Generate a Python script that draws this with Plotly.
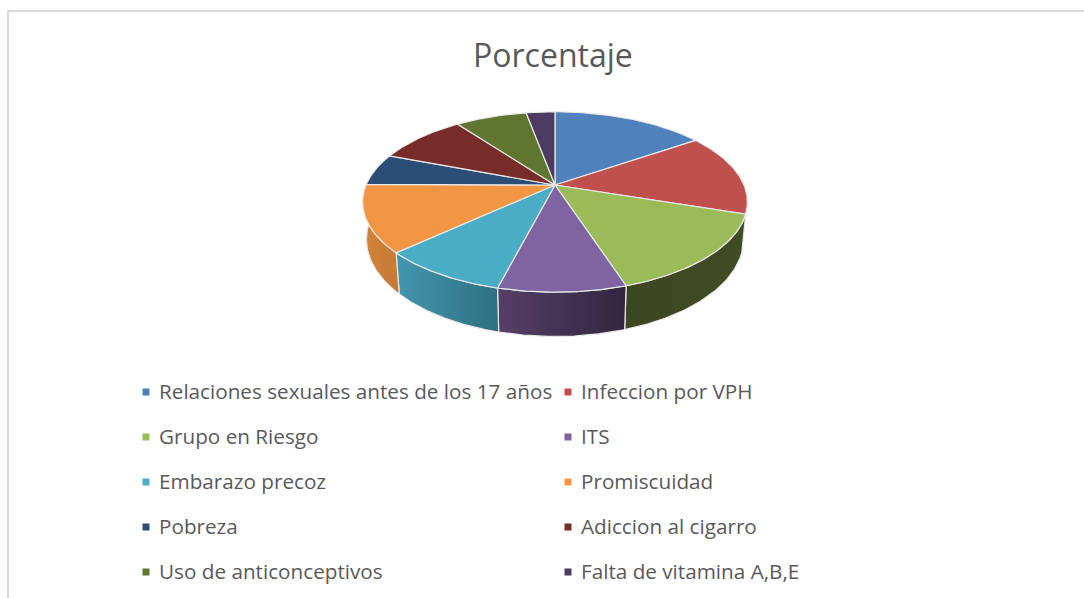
import numpy as np
import plotly.graph_objects as go

CATEGORIES = ["Relaciones sexuales antes de los 17 años", "Infeccion por VPH", "Grupo en Riesgo", "ITS",
              "Embarazo precoz", "Promiscuidad", "Pobreza", "Adiccion al cigarro",
              "Uso de anticonceptivos", "Falta de vitamina A,B,E"]
VALUES = [15.4, 14.7, 14.9, 9.0, 9.1, 12.0, 5.7, 9.1, 7.2, 2.9]
COLORS = ["#4F81BD", "#C0504D", "#9BBB59", "#8064A2", "#4BACC6", "#F39643", "#2C4D75", "#772C2A", "#5F7530", "#4D3B62"]
WALL_COLORS = {2: ("#3C4720", "#404C24"), 3: ("#553F67", "#32263F"), 4: ("#4297B0", "#2F6F80"), 5: ("#D2823A", "#C67A36")}

CX, CY, A, B, K, DROP, BOTTOM_SCALE = 555, 185, 189, 87, 0.188, 36, 0.98
EDGE = "#E9E9E9"


def project(theta, bottom=False):
    X, Y = np.sin(theta), np.cos(theta)
    w = 1 / (1 + K * Y)
    if bottom:
        return CX + BOTTOM_SCALE * A * X * w, CY - B * Y * w + DROP * w
    return CX + A * X * w, CY - B * Y * w


fig = go.Figure()
edges = np.radians(np.concatenate([[0], np.cumsum(VALUES)]) * 3.6)

for i, (lo, hi) in enumerate(zip(edges[:-1], edges[1:])):
    if i not in WALL_COLORS:
        continue
    th = np.linspace(lo, hi, 60)
    xt, yt = project(th)
    xb, yb = project(th[::-1], bottom=True)
    c0, c1 = WALL_COLORS[i]
    fig.add_trace(go.Scatter(
        x=np.r_[xt, xb, xt[0]], y=np.r_[yt, yb, yt[0]], mode="lines", fill="toself",
        fillgradient=dict(type="horizontal", colorscale=[[0, c0], [1, c1]]),
        line=dict(color=EDGE, width=1.2), hoverinfo="skip", showlegend=False))

for i, (lo, hi) in enumerate(zip(edges[:-1], edges[1:])):
    th = np.linspace(lo, hi, 80)
    xs, ys = project(th)
    fig.add_trace(go.Scatter(
        x=np.r_[CX, xs, CX], y=np.r_[CY, ys, CY], mode="lines", fill="toself",
        fillcolor=COLORS[i], line=dict(color=EDGE, width=1.2),
        name=CATEGORIES[i], text=f"{VALUES[i]}%", hoverinfo="name+text", showlegend=False))

annotations = [dict(x=553, y=54, xref="x", yref="y", text="Porcentaje", showarrow=False,
                    font=dict(family="Open Sans", size=32, color="#595959"))]
for i, name in enumerate(CATEGORIES):
    col, row = i % 2, i // 2
    y = 391 + 45 * row
    tx = 157 if col == 0 else 579
    fig.add_trace(go.Scatter(x=[tx - 11], y=[y + 1], mode="markers",
                             marker=dict(symbol="square", size=7, color=COLORS[i]),
                             hoverinfo="skip", showlegend=False))
    annotations.append(dict(x=tx, y=y, xref="x", yref="y", text=name, showarrow=False,
                            xanchor="left", yanchor="middle",
                            font=dict(family="Open Sans", size=20.7, color="#595959")))

fig.update_layout(
    width=1084, height=598, margin=dict(l=0, r=0, t=0, b=0),
    paper_bgcolor="white", plot_bgcolor="white",
    xaxis=dict(range=[0, 1084], visible=False, fixedrange=True),
    yaxis=dict(range=[598, 0], visible=False, fixedrange=True),
    annotations=annotations,
    shapes=[
        dict(type="line", x0=8, x1=1084, y0=11, y1=11, xref="x", yref="y", line=dict(color="#D9D9D9", width=2)),
        dict(type="line", x0=8, x1=8, y0=10, y1=598, xref="x", yref="y", line=dict(color="#D9D9D9", width=2)),
    ],
)
fig.write_html("out.html", config=dict(displayModeBar=False),
               post_script="document.body.style.margin='0';document.documentElement.style.overflow='hidden';")
